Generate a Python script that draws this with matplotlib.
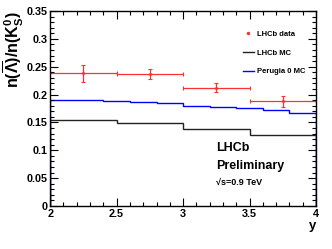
import matplotlib.pyplot as plt
from matplotlib.lines import Line2D
import numpy as np

plt.rcParams['font.family'] = ['Liberation Sans', 'DejaVu Sans']
plt.rcParams['mathtext.fontset'] = 'custom'
plt.rcParams['mathtext.rm'] = 'Liberation Sans:bold'
plt.rcParams['mathtext.it'] = 'Liberation Sans:bold'
plt.rcParams['mathtext.bf'] = 'Liberation Sans:bold'

# LHCb data (bins of 0.5 in y)
data_centers = [2.25, 2.75, 3.25, 3.75]
data_halfwidth = [0.25, 0.25, 0.25, 0.25]
data_values = [0.238, 0.237, 0.212, 0.188]
data_errors = [0.015, 0.009, 0.008, 0.010]

# LHCb MC
mc_edges = [2.0, 2.5, 3.0, 3.5, 4.0]
mc_values = [0.154, 0.149, 0.138, 0.127]

# Perugia 0 MC
per_edges = [2.0, 2.2, 2.4, 2.6, 2.8, 3.0, 3.2, 3.4, 3.6, 3.8, 4.0]
per_values = [0.191, 0.191, 0.189, 0.187, 0.184, 0.179, 0.178, 0.175, 0.172, 0.167]

fig = plt.figure(figsize=(3.32, 2.49), dpi=100)
ax = fig.add_axes([0.151, 0.173, 0.801, 0.783])

ax.stairs(mc_values, mc_edges, color='#222222', linewidth=1.0)
ax.stairs(per_values, per_edges, color='#0000ff', linewidth=1.0)
ax.errorbar(data_centers, data_values, xerr=data_halfwidth, yerr=data_errors,
            fmt='o', color='#ff3030', markersize=1.2, elinewidth=0.9,
            capsize=1.5, capthick=0.8)

ax.set_xlim(2, 4)
ax.set_ylim(0, 0.35)
ax.set_xticks(np.arange(2, 4.01, 0.5))
ax.set_xticklabels(['2', '2.5', '3', '3.5', '4'])
ax.set_yticks(np.arange(0, 0.351, 0.05))
ax.set_yticklabels(['0', '0.05', '0.1', '0.15', '0.2', '0.25', '0.3', '0.35'])
ax.set_xticks(np.arange(2, 4.01, 0.1), minor=True)
ax.set_yticks(np.arange(0, 0.351, 0.01), minor=True)
ax.tick_params(which='both', direction='in', top=True, right=True,
               labelsize=7.8, width=0.8, pad=2)
ax.tick_params(which='major', length=6)
ax.tick_params(which='minor', length=3)
for lbl in ax.get_xticklabels() + ax.get_yticklabels():
    lbl.set_fontweight('bold')
for s in ax.spines.values():
    s.set_linewidth(1.0)

ax.set_ylabel(r'$\mathregular{n(\overline{\Lambda})/n(K^0_S)}$', fontsize=11.5,
              fontweight='bold', loc='top', labelpad=0)
ax.set_xlabel('y', fontsize=9.5, fontweight='bold', loc='right', labelpad=1)

handles = [
    Line2D([], [], linestyle='none', marker='o', markersize=1.5, color='#ff3030'),
    Line2D([], [], color='#222222', linewidth=1.0),
    Line2D([], [], color='#0000ff', linewidth=1.0),
]
labels = ['LHCb data', 'LHCb MC', 'Perugia 0 MC']
ax.legend(handles, labels, loc='upper right', bbox_to_anchor=(0.985, 0.935),
          frameon=False, handlelength=1.4, handletextpad=0.4, labelspacing=1.5,
          prop={'weight': 'bold', 'size': 5.5})

ax.text(0.625, 0.28, 'LHCb', transform=ax.transAxes, fontsize=9, fontweight='bold')
ax.text(0.625, 0.19, 'Preliminary', transform=ax.transAxes, fontsize=9, fontweight='bold')
ax.text(0.625, 0.11, '\u221as=0.9 TeV', transform=ax.transAxes, fontsize=6.5,
        fontweight='bold')

plt.savefig('out.png', dpi=100)
